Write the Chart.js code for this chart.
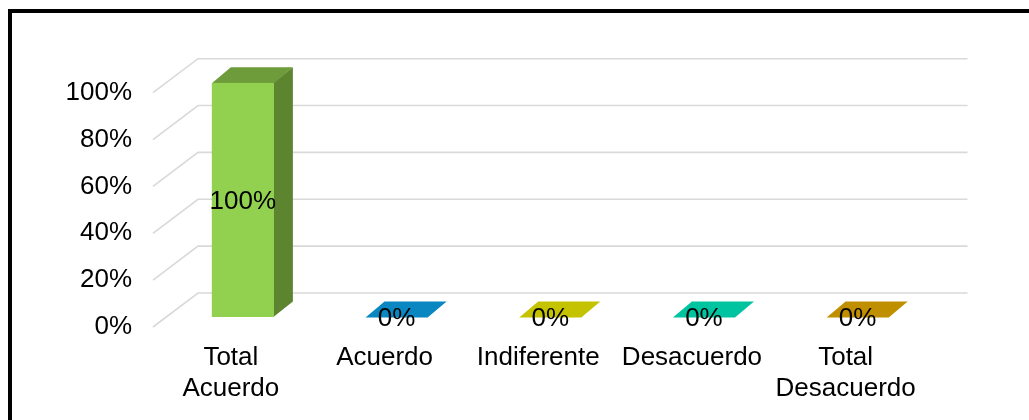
<!DOCTYPE html>
<html>
<head>
<meta charset="utf-8">
<script src="https://cdn.jsdelivr.net/npm/chart.js@4.4.0/dist/chart.umd.min.js"></script>
<style>
  html, body { margin: 0; padding: 0; background: #fff; overflow: hidden; }
  #wrap { position: relative; width: 1029px; height: 420px; }
  #frame { position: absolute; left: 8px; top: 9px; width: 1100px; height: 500px;
           border: 4px solid #000; box-sizing: border-box; pointer-events: none; }
  canvas { position: absolute; left: 0; top: 0; }
</style>
</head>
<body>
<div id="wrap">
  <canvas id="chart" width="1029" height="420"></canvas>
  <div id="frame"></div>
</div>
<script>
// Survey answers and their share of respondents (%)
const categories = [['Total', 'Acuerdo'], 'Acuerdo', 'Indiferente', 'Desacuerdo', ['Total', 'Desacuerdo']];
const percentages = [100, 0, 0, 0, 0];
const yTicks = [0, 20, 40, 60, 80, 100];

// Face colours for each bar: front, top and right side
const frontColors = ['#92D050', '#1FA3DD', '#E6E400', '#1DE0B8', '#E0A800'];
const topColors   = ['#6E9C3B', '#0A86C0', '#C5C300', '#00C3A0', '#BF8F00'];
const sideColors  = ['#5D8530', '#076F9F', '#A3A200', '#00A285', '#9E7600'];

// Pseudo-3D geometry
const GRID_DEPTH = { dx: 45, dy: -34 };   // front edge -> back wall
const BAR_SHIFT  = { dx: 12, dy: -10 };   // bars sit a little behind the front edge
const BAR_DEPTH  = { dx: 19, dy: -15.5 }; // thickness of each bar

const FONT = { family: '"Liberation Sans", Arial, sans-serif', size: 26 };

const depth3d = {
  id: 'depth3d',
  beforeDatasetsDraw(chart) {
    const ctx = chart.ctx;
    const y = chart.scales.y;
    const { left, right } = chart.chartArea;

    // Back wall and floor-side grid lines
    ctx.save();
    ctx.strokeStyle = '#D9D9D9';
    ctx.lineWidth = 1.6;
    y.ticks.forEach(t => {
      const py = y.getPixelForValue(t.value);
      ctx.beginPath();
      ctx.moveTo(left - 1, py);
      ctx.lineTo(left - 1 + GRID_DEPTH.dx, py + GRID_DEPTH.dy);
      ctx.lineTo(right + GRID_DEPTH.dx, py + GRID_DEPTH.dy);
      ctx.stroke();
    });
    ctx.restore();

    // Move the bars back, then draw their top and side faces
    ctx.save();
    ctx.translate(BAR_SHIFT.dx, BAR_SHIFT.dy);
    const meta = chart.getDatasetMeta(0);
    meta.data.forEach((bar, i) => {
      const { x, y: top, base, width } = bar.getProps(['x', 'y', 'base', 'width'], true);
      const l = x - width / 2, r = x + width / 2;
      const { dx, dy } = BAR_DEPTH;
      if (base - top > 0.5) {
        ctx.fillStyle = sideColors[i];
        ctx.beginPath();
        ctx.moveTo(r - 0.5, top);
        ctx.lineTo(r + dx, top + dy);
        ctx.lineTo(r + dx, base + dy);
        ctx.lineTo(r - 0.5, base);
        ctx.closePath();
        ctx.fill();
      }
      ctx.fillStyle = topColors[i];
      ctx.beginPath();
      ctx.moveTo(l, top + 0.5);
      ctx.lineTo(r, top + 0.5);
      ctx.lineTo(r + dx, top + dy);
      ctx.lineTo(l + dx, top + dy);
      ctx.closePath();
      ctx.fill();
    });
  },
  afterDatasetsDraw(chart) {
    const ctx = chart.ctx;
    // Value labels centred on each bar's front face
    const meta = chart.getDatasetMeta(0);
    ctx.fillStyle = '#000';
    ctx.font = `${FONT.size}px ${FONT.family}`;
    ctx.textAlign = 'center';
    ctx.textBaseline = 'middle';
    meta.data.forEach((bar, i) => {
      const { x, y: top, base } = bar.getProps(['x', 'y', 'base'], true);
      ctx.fillText(percentages[i] + '%', x, (top + base) / 2 + 1.5);
    });
    ctx.restore();
  }
};

new Chart(document.getElementById('chart'), {
  type: 'bar',
  data: {
    labels: categories,
    datasets: [{
      data: percentages,
      backgroundColor: frontColors,
      borderWidth: 0,
      categoryPercentage: 1,
      barPercentage: 0.404
    }]
  },
  options: {
    responsive: false,
    animation: false,
    events: [],
    layout: { padding: { left: 0, right: 106.5, top: 92.7, bottom: 0 } },
    plugins: { legend: { display: false }, tooltip: { enabled: false } },
    scales: {
      x: {
        grid: { display: false, drawTicks: false },
        border: { display: false },
        ticks: { color: '#000', font: { ...FONT, lineHeight: 1.2 }, padding: 15, maxRotation: 0, autoSkip: false },
        afterFit(s) { s.height = 93; }
      },
      y: {
        min: 0,
        max: 100,
        afterBuildTicks(s) { s.ticks = yTicks.map(v => ({ value: v })); },
        grid: { display: false, drawTicks: false },
        border: { display: false },
        ticks: { color: '#000', font: FONT, padding: 22, callback: v => v + '%' },
        afterFit(s) { s.width = 154; }
      }
    }
  },
  plugins: [depth3d]
});
</script>
</body>
</html>
